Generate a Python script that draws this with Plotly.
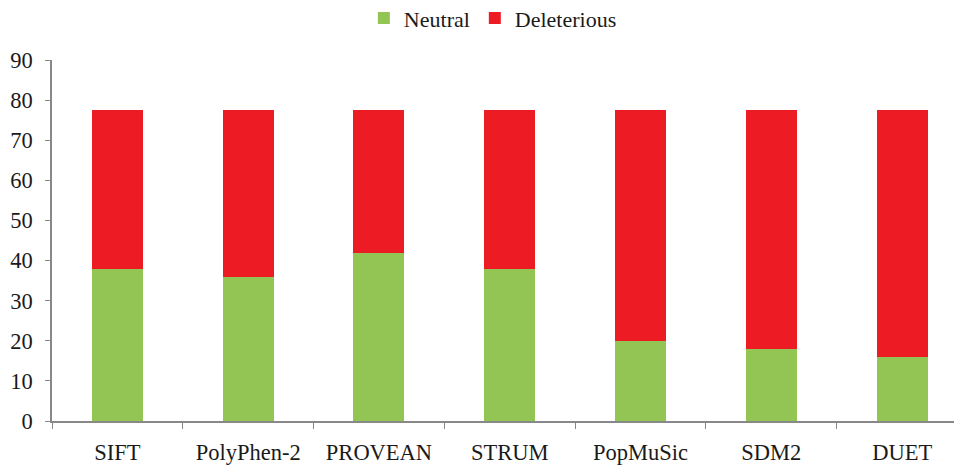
import plotly.graph_objects as go

categories = ["SIFT", "PolyPhen-2", "PROVEAN", "STRUM", "PopMuSic", "SDM2", "DUET"]
neutral = [38, 36, 42, 38, 20, 18, 16]
deleterious = [39.6, 41.6, 35.6, 39.6, 57.6, 59.6, 61.6]
y_ticks = [0, 10, 20, 30, 40, 50, 60, 70, 80, 90]

fig = go.Figure()
fig.add_trace(go.Bar(x=categories, y=neutral, name="Neutral",
                     marker=dict(color="#92C553", line=dict(width=0))))
fig.add_trace(go.Bar(x=categories, y=deleterious, name="Deleterious",
                     marker=dict(color="#ED1C24", line=dict(width=0))))

font = dict(family="Liberation Serif, Times New Roman, serif", size=22.5, color="#1a1a1a")

fig.update_layout(
    barmode="stack",
    bargap=0.61,
    width=954, height=459,
    margin=dict(l=44, r=1, t=52, b=46, autoexpand=False),
    paper_bgcolor="white", plot_bgcolor="white",
    font=font,
    showlegend=True,
    legend=dict(orientation="h", x=0.485, xanchor="center", y=1.116, yanchor="middle",
                font=dict(family=font["family"], size=22, color="#1a1a1a"),
                traceorder="normal", itemwidth=30),
    xaxis=dict(type="category", range=[-0.5, 6.45], showline=True, linecolor="#888888",
               linewidth=1.5, ticks="outside", tickson="boundaries", ticklen=6,
               tickcolor="#888888", showgrid=False, tickfont=font,
               ticklabelstandoff=10),
    yaxis=dict(range=[0, 90], tickvals=y_ticks, showline=True, linecolor="#888888",
               linewidth=1.5, ticks="outside", ticklen=5, tickcolor="#888888",
               showgrid=False, zeroline=False, tickfont=font,
               ticklabelstandoff=8),
)

fig.write_html("out.html")
